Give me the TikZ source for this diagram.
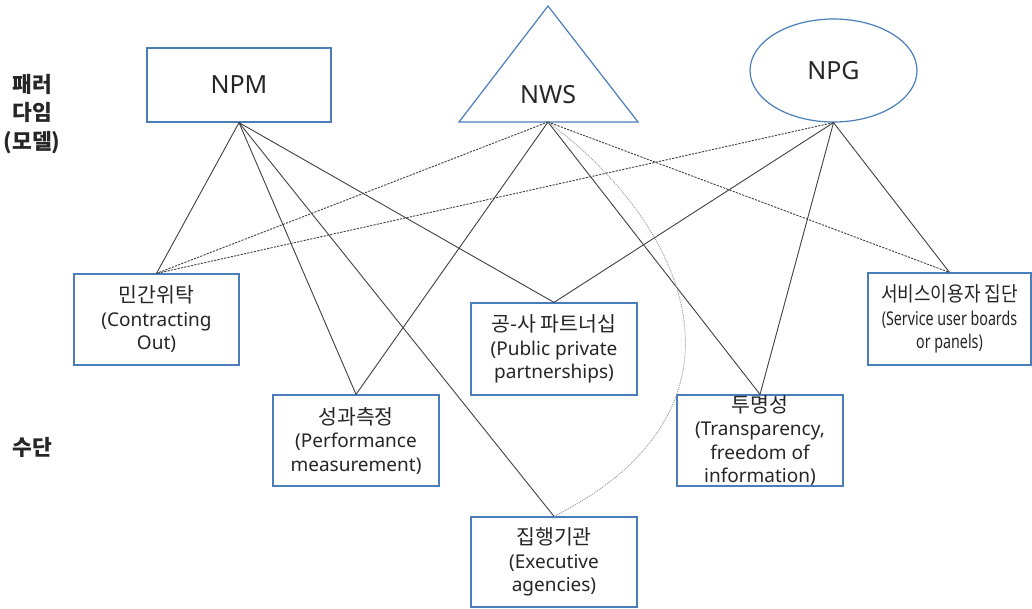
\documentclass[tikz,border=0pt]{standalone}
\usepackage{fontspec}
\usepackage{graphicx}
\setmainfont{Noto Sans}
\newfontfamily\kr{Noto Sans CJK KR}
\usetikzlibrary{shapes.geometric}
\definecolor{boxblue}{HTML}{4A7EBB}
\definecolor{lnc}{HTML}{404040}
\definecolor{txt}{HTML}{262626}
\definecolor{dotc}{HTML}{9A9A9A}
\newcommand{\krl}[1]{{\kr\fontsize{20.5}{23.5}\selectfont #1}}
\tikzset{
  meansbox/.style={draw=boxblue, line width=1.2pt, fill=white, inner sep=0pt, align=center,
    text=txt, font=\fontsize{19}{23.5}\selectfont},
  solidln/.style={draw=lnc, line width=0.9pt},
  dashln/.style={draw=lnc, line width=0.9pt, dash pattern=on 2.2pt off 1.2pt},
  dotln/.style={draw=dotc, line width=0.9pt, dash pattern=on 1pt off 1pt},
  sidelabel/.style={align=center, text=txt, font=\kr\bfseries\fontsize{21.5}{28.5}\selectfont},
  modelname/.style={text=txt, font=\fontsize{25}{30}\selectfont},
}
\begin{document}
\begin{tikzpicture}[x=1pt,y=-1pt]
\path[use as bounding box] (0,0) rectangle (1032,608);

% side labels
\node[sidelabel] (lab1) at (32,114) {패러\\다임\\(모델)};
\node[sidelabel] (lab2) at (32,447) {수단};

% models
\node[draw=boxblue, line width=1.2pt, minimum width=184, minimum height=74, inner sep=0pt, modelname] (npm) at (239,85) {NPM};
\draw[boxblue, line width=1.2pt] (459,122) -- (548,6) -- (638,122) -- cycle;
\node[modelname] (nws) at (548,95) {NWS};
\coordinate (nwsb) at (548,122);
\node[ellipse, draw=boxblue, line width=1.2pt, minimum width=167, minimum height=103, inner sep=0pt, modelname] (npg) at (833.5,70.5) {NPG};

% means
\node[meansbox, minimum width=165, minimum height=91] (co) at (156.5,319.5)
  {\krl{민간위탁}\\(Contracting\\Out)};
\node[meansbox, minimum width=166, minimum height=91] (pm) at (356,440.5)
  {\krl{성과측정}\\(Performance\\measurement)};
\node[meansbox, minimum width=166, minimum height=92] (ppp) at (554,349)
  {\krl{공-사 파트너십}\\(Public private\\partnerships)};
\node[meansbox, minimum width=166, minimum height=90] (ea) at (554,562)
  {\krl{집행기관}\\(Executive\\agencies)};
\node[meansbox, minimum width=166, minimum height=91] (tr) at (760,440.5)
  {\krl{투명성}\\(Transparency,\\freedom of\\information)};
\node[meansbox, minimum width=163, minimum height=92] (su) at (949.5,319)
  {\scalebox{0.88}[1]{\krl{서비스이용자 집단}}\\\scalebox{0.75}[1]{(Service user boards}\\\scalebox{0.75}[1]{or panels)}};

% NPM connectors
\draw[solidln] (npm.south) -- (co.north);
\draw[solidln] (npm.south) -- (pm.north);
\draw[solidln] (npm.south) -- (ea.north);
\draw[solidln] (npm.south) -- (ppp.north);

% NWS connectors
\draw[dashln] (nwsb) -- (co.north);
\draw[solidln] (nwsb) -- (pm.north);
\draw[solidln] (nwsb) -- (tr.north);
\draw[dashln] (nwsb) -- (su.north);
\draw[dotln] (nwsb) .. controls (691,228) and (765,410) .. (ea.north);

% NPG connectors
\draw[dashln] (npg.south) -- (co.north);
\draw[solidln] (npg.south) -- (ppp.north);
\draw[solidln] (npg.south) -- (tr.north);
\draw[solidln] (npg.south) -- (su.north);
\end{tikzpicture}
\end{document}
